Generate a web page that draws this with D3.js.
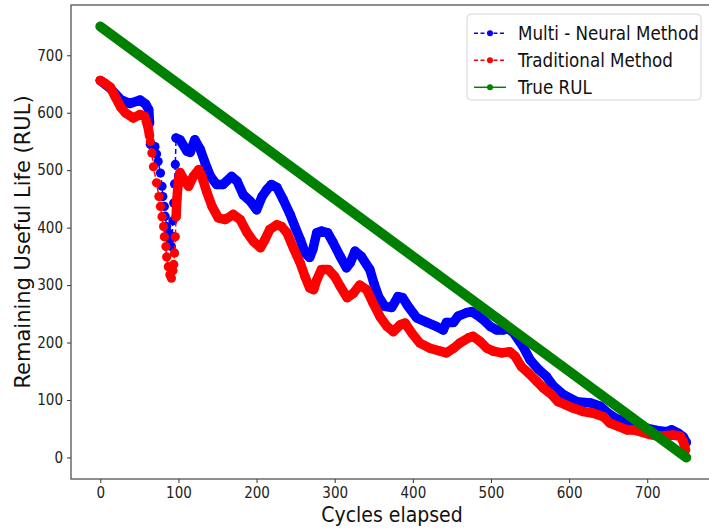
<!DOCTYPE html>
<html>
<head>
<meta charset="utf-8">
<script src="https://cdn.jsdelivr.net/npm/d3@7"></script>
<style>
  body { margin: 0; background: #fff; }
  text { font-family: 'DejaVu Sans Condensed', 'DejaVu Sans', sans-serif; font-stretch: condensed; }
</style>
</head>
<body>
<svg id="chart" width="709" height="531"></svg>
<script>
// values
const multiCycles = [0, 13, 26, 38, 51, 58, 62, 63, 64, 66, 70, 72, 74, 77, 79, 80, 82, 83, 85, 87, 89, 91, 92, 93, 94, 95, 96, 97,
  102, 111, 115, 121, 128, 134, 141, 149, 157, 168, 175, 183, 192, 200, 207, 213, 219, 226, 234, 243, 249, 256, 262, 268, 272, 277,
  283, 291, 298, 307, 315, 320, 326, 334, 345, 350, 356, 364, 373, 381, 387, 394, 405, 418, 430, 439, 443, 452, 458, 469, 475, 482,
  490, 499, 507, 516, 522, 529, 541, 550, 561, 571, 580, 593, 610, 627, 640, 650, 661, 674, 686, 699, 712, 725, 731, 740, 746, 750];
const multiRul = [656, 642, 623, 616, 622, 615, 605, 582, 545, 544, 541, 528, 515, 495, 472, 454, 437, 420, 402, 391, 379, 367, 385, 412, 443, 476, 510, 556,
  553, 533, 531, 553, 536, 513, 489, 475, 475, 489, 481, 457, 446, 431, 454, 466, 475, 470, 449, 423, 402, 379, 356, 348, 362, 391,
  394, 391, 374, 350, 330, 339, 359, 350, 327, 304, 280, 263, 261, 280, 278, 263, 243, 235, 228, 222, 235, 235, 246, 252, 254, 248,
  240, 228, 222, 222, 224, 217, 193, 170, 153, 141, 124, 109, 97, 95, 89, 77, 67, 63, 57, 51, 47, 45, 48, 42, 36, 26];

const tradCycles = [0, 6, 13, 19, 26, 32, 42, 51, 57, 61, 63, 64, 66, 68, 72, 75, 77, 79, 81, 82, 84, 85, 87, 89, 91, 93, 94, 95, 96, 97, 98, 100,
  102, 107, 113, 119, 126, 130, 136, 143, 151, 160, 170, 179, 188, 196, 205, 211, 217, 226, 232, 239, 247, 256, 262, 268, 273, 277,
  283, 292, 300, 307, 316, 324, 332, 341, 349, 358, 367, 375, 384, 390, 399, 409, 422, 435, 443, 452, 460, 471, 477, 486, 495, 503,
  514, 524, 531, 539, 548, 559, 567, 578, 586, 595, 605, 618, 631, 644, 652, 663, 674, 682, 691, 703, 716, 733, 742, 746, 749];
const tradRul = [656, 651, 644, 628, 610, 600, 591, 597, 593, 576, 560, 550, 530, 506, 478, 454, 437, 419, 402, 384, 367, 349, 332, 318, 312, 325, 336, 356, 384, 419, 449, 483,
  496, 484, 472, 489, 501, 489, 463, 437, 417, 414, 423, 414, 391, 376, 365, 380, 397, 405, 402, 391, 365, 338, 315, 295, 292, 309,
  327, 327, 315, 298, 278, 286, 300, 292, 269, 245, 228, 219, 231, 234, 216, 199, 190, 185, 182, 190, 199, 208, 211, 202, 190, 185,
  182, 184, 176, 158, 147, 132, 121, 109, 97, 92, 86, 80, 77, 71, 60, 54, 48, 48, 45, 40, 37, 39, 37, 28, 13];

const trueCycles = [0, 750];
const trueRul = [750, 0];

const xTicks = [0, 100, 200, 300, 400, 500, 600, 700];
const yTicks = [0, 100, 200, 300, 400, 500, 600, 700];
const seriesNames = ['Multi - Neural Method', 'Traditional Method', 'True RUL'];
const seriesColors = ['#0000ff', '#ff0000', '#008000'];

// cycles where the predictions move so fast that single markers show
const sparseFrom = 63.5, sparseTo = 96.5;

const svg = d3.select('#chart');

const x = d3.scaleLinear().domain([-37.5, 787.5]).range([71, 715.6]);
const y = d3.scaleLinear().domain([-37.5, 787.5]).range([479, 5]);

const xAxis = svg.append('g')
  .attr('transform', 'translate(0,479)')
  .call(d3.axisBottom(x).tickValues(xTicks).tickSize(4).tickPadding(4));
const yAxis = svg.append('g')
  .attr('transform', 'translate(71,0)')
  .call(d3.axisLeft(y).tickValues(yTicks).tickSize(4).tickPadding(4));
[xAxis, yAxis].forEach(a => {
  a.select('.domain').remove();
  a.selectAll('line').attr('stroke', '#333');
  a.selectAll('text').attr('font-size', '15px').attr('fill', '#222')
    .style('font-family', "'DejaVu Sans Condensed', 'DejaVu Sans', sans-serif");
});

svg.append('rect')
  .attr('x', 71).attr('y', 5)
  .attr('width', 715.6 - 71).attr('height', 474)
  .attr('fill', 'none').attr('stroke', '#444').attr('stroke-width', 1.2);

const line = d3.line().x(d => x(d.c)).y(d => y(d.v));
const band = d3.line().x(d => x(d.c)).y(d => y(d.v))
  .defined(d => d.c < sparseFrom || d.c > sparseTo);

function drawPrediction(cycles, values, color) {
  const pts = cycles.map((c, i) => ({ c: c, v: values[i] }));
  const g = svg.append('g');
  g.append('path')
    .attr('d', line(pts))
    .attr('fill', 'none').attr('stroke', color)
    .attr('stroke-width', 1.5).attr('stroke-dasharray', '5,3');
  g.append('path')
    .attr('d', band(pts))
    .attr('fill', 'none').attr('stroke', color)
    .attr('stroke-width', 9.5)
    .attr('stroke-linejoin', 'round').attr('stroke-linecap', 'round');
  g.selectAll('circle')
    .data(pts)
    .enter()
    .append('circle')
    .attr('cx', d => x(d.c)).attr('cy', d => y(d.v))
    .attr('r', 4.6)
    .attr('fill', color);
}

drawPrediction(multiCycles, multiRul, seriesColors[0]);
drawPrediction(tradCycles, tradRul, seriesColors[1]);

const truePts = trueCycles.map((c, i) => ({ c: c, v: trueRul[i] }));
svg.append('path')
  .attr('d', line(truePts))
  .attr('fill', 'none').attr('stroke', seriesColors[2])
  .attr('stroke-width', 10).attr('stroke-linecap', 'round');

// axis titles
svg.append('text')
  .attr('x', 392).attr('y', 522)
  .attr('text-anchor', 'middle')
  .attr('font-size', '21px').attr('fill', '#111')
  .text('Cycles elapsed');

svg.append('text')
  .attr('transform', 'translate(30,242) rotate(-90)')
  .attr('text-anchor', 'middle')
  .attr('font-size', '21px').attr('fill', '#111')
  .style('font-family', "'DejaVu Sans', sans-serif")
  .style('font-stretch', 'normal')
  .text('Remaining Useful Life (RUL)');

// legend
const legend = svg.append('g');
legend.append('rect')
  .attr('x', 467).attr('y', 14)
  .attr('width', 234).attr('height', 86)
  .attr('rx', 4)
  .attr('fill', '#fff').attr('fill-opacity', 0.85)
  .attr('stroke', '#d6d6d6');

const rows = legend.selectAll('g.row')
  .data(seriesNames)
  .enter()
  .append('g')
  .attr('class', 'row')
  .attr('transform', (d, i) => `translate(0,${33.3 + i * 27})`);
rows.append('line')
  .attr('x1', 474).attr('x2', 506)
  .attr('stroke', (d, i) => seriesColors[i])
  .attr('stroke-width', 1.5)
  .attr('stroke-dasharray', (d, i) => i < 2 ? '4,2.5' : null);
rows.append('circle')
  .attr('cx', 490).attr('r', 3)
  .attr('fill', (d, i) => seriesColors[i]);
rows.append('text')
  .attr('x', 518).attr('y', 6.5)
  .attr('font-size', '18.6px').attr('fill', '#111')
  .text(d => d);
</script>
</body>
</html>
